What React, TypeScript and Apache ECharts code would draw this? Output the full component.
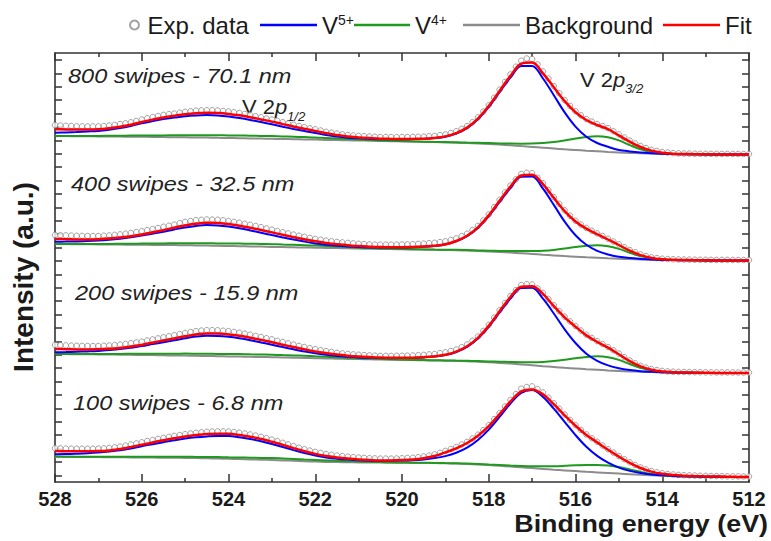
import React, { useEffect, useRef } from "react";
import * as echarts from "echarts";

// Binding energies (eV) for the fitted curves and for the measured points
const energies = [528,527.75,527.5,527.25,527,526.75,526.5,526.25,526,525.75,525.5,525.25,525,524.75,524.5,524.25,524,523.75,523.5,523.25,523,522.75,522.5,522.25,522,521.75,521.5,521.25,521,520.75,520.5,520.25,520,519.75,519.5,519.25,519,518.75,518.5,518.25,518,517.75,517.5,517.25,517,516.75,516.5,516.25,516,515.75,515.5,515.25,515,514.75,514.5,514.25,514,513.75,513.5,513.25,513,512.75,512.5,512.25,512];
const expEnergies = [528,527.875,527.75,527.625,527.5,527.375,527.25,527.125,527,526.875,526.75,526.625,526.5,526.375,526.25,526.125,526,525.875,525.75,525.625,525.5,525.375,525.25,525.125,525,524.875,524.75,524.625,524.5,524.375,524.25,524.125,524,523.875,523.75,523.625,523.5,523.375,523.25,523.125,523,522.875,522.75,522.625,522.5,522.375,522.25,522.125,522,521.875,521.75,521.625,521.5,521.375,521.25,521.125,521,520.875,520.75,520.625,520.5,520.375,520.25,520.125,520,519.875,519.75,519.625,519.5,519.375,519.25,519.125,519,518.875,518.75,518.625,518.5,518.375,518.25,518.125,518,517.875,517.75,517.625,517.5,517.375,517.25,517.125,517,516.875,516.75,516.625,516.5,516.375,516.25,516.125,516,515.875,515.75,515.625,515.5,515.375,515.25,515.125,515,514.875,514.75,514.625,514.5,514.375,514.25,514.125,514,513.875,513.75,513.625,513.5,513.375,513.25,513.125,513,512.875,512.75,512.625,512.5,512.375,512.25,512.125,512];

// Vertical offsets of the stacked spectra (a.u.) : 800, 400, 200, 100 swipes
const offsets = [327.5, 221.5, 109, 5];
const sampleLabels = ["800 swipes - 70.1 nm", "400 swipes - 32.5 nm", "200 swipes - 15.9 nm", "100 swipes - 6.8 nm"];
const peakLabels = ["1/2", "3/2"];

// ---- 800 swipes ----
const bg800 = [18.5,18.4,18.3,18.2,18.1,18,17.9,17.8,17.7,17.6,17.4,17.3,17.2,17,16.9,16.7,16.5,16.3,16.1,15.9,15.7,15.5,15.3,15.1,14.9,14.6,14.4,14.2,14,13.8,13.5,13.3,13.1,12.9,12.6,12.4,12.1,11.8,11.4,11,10.5,9.9,9.2,8.4,7.6,6.8,6,5.2,4.5,3.8,3.2,2.6,2.1,1.6,1.2,0.9,0.6,0.4,0.3,0.2,0.1,0.1,0,0,0];
const v5_800 = [21.8,22.1,22.5,23,23.6,24.8,26.4,28.6,31.2,33.4,35.4,36.9,38.2,39,39.4,39,38,36.5,34.6,32.4,30.2,27.8,25.5,23.4,21.5,19.4,18,16.8,16.2,15.7,15.3,15.2,15.2,15.4,15.6,16.4,17.8,21,26.4,35.2,47.5,62.4,76.9,88.4,88.6,76,59.3,42.1,27.9,17.8,11.5,7.7,4.6,3.1,2,1.3,0.8,0.4,0.3,0.2,0.1,0.1,0,0,0];
const v4_800 = [18.6,18.6,18.6,18.6,18.6,18.7,18.8,18.9,19,19.1,19.1,19.2,19.3,19.3,19.3,19.2,19.1,19,18.8,18.6,18.4,18.1,17.8,17.4,17,16.4,15.9,15.4,14.9,14.5,14,13.7,13.4,13.1,12.8,12.6,12.4,12.2,11.9,11.7,11.4,11.1,10.9,10.8,10.9,11.4,12.4,14,15.9,17.5,18.2,17.2,14.1,9.4,5.2,2.5,1.1,0.6,0.4,0.2,0.1,0.1,0,0,0];
const fit800 = [25.3,25.1,25,25,25.2,26.2,27.7,29.8,32.5,34.9,37.1,38.8,40.3,41.3,41.8,41.5,40.6,39.2,37.3,35.1,32.9,30.4,28,25.7,23.6,21.2,19.5,18,17.1,16.4,15.8,15.6,15.5,15.6,15.8,16.6,18.1,21.4,26.9,35.9,48.4,63.6,78.6,90.8,91.9,81.1,67.2,53.4,42.3,34.5,29.5,25.3,19.1,12.9,7.5,3.9,1.8,0.8,0.5,0.3,0.2,0.1,0.1,0,0];
const exp800 = [29.3,29,28.7,28.5,28.2,28.1,28,28.1,28.1,28.4,29,29.6,30.4,31.2,32.2,33.5,35,36.2,37.4,38.5,39.6,40.3,40.9,41.8,42.6,43.2,43.8,44.1,44.3,44.2,44,43.5,43,42.2,41.5,40.5,39.5,38.3,37.2,36,34.9,33.6,32.3,31,29.8,28.5,27.4,26.2,25.2,24,22.7,21.8,21,20.2,19.5,19,18.6,18.3,18,17.8,17.5,17.5,17.4,17.4,17.5,17.5,17.6,17.7,17.8,18.2,18.6,19.3,20.1,21.5,23.2,25.6,28.4,32.4,37.1,42.9,49.4,56.8,64.8,72.6,80.1,87.8,93.8,96,95.4,90.1,83.1,76,68.4,61.3,54.4,48.6,43.3,39.2,35.5,32.9,30.5,28.4,26.3,23.3,20.1,17,13.9,11.1,8.5,6.5,4.7,3.6,2.5,2,1.4,1.25,1,0.9,0.8,0.75,0.7,0.65,0.6,0.6,0.6,0.55,0.5,0.5,0.5];

// ---- 400 swipes ----
const bg400 = [16.5,16.4,16.3,16.2,16.1,16,15.9,15.8,15.7,15.6,15.5,15.4,15.3,15.1,14.9,14.7,14.5,14.3,14.1,13.9,13.6,13.4,13.2,13,12.8,12.6,12.4,12.2,11.9,11.7,11.6,11.4,11.2,11,10.9,10.7,10.5,10.3,10,9.5,9,8.5,7.9,7.3,6.6,5.8,5.1,4.4,3.8,3.2,2.7,2.2,1.8,1.4,1.1,0.8,0.5,0.4,0.3,0.2,0.1,0.1,0,0,0];
const v5_400 = [18.8,18.9,19.1,19.4,19.9,20.7,21.8,23.2,24.9,26.8,28.8,31,33.1,34.6,35.4,35,33.9,32.2,30.1,27.8,25.4,23.1,20.9,18.9,17.1,15.8,14.8,14.1,13.5,13.1,12.9,12.9,13,13.2,13.7,14.5,15.9,19.1,24.3,32.6,44.3,58.6,72.5,83.7,83.9,71.8,55.6,38.9,25.3,15.7,9.7,6,3.7,2.4,1.6,1,0.6,0.4,0.3,0.2,0.1,0.1,0,0,0];
const v4_400 = [16.6,16.6,16.6,16.6,16.6,16.6,16.7,16.8,16.9,17,17.1,17.2,17.3,17.3,17.2,17.1,17,16.9,16.8,16.6,16.3,16,15.7,15.3,14.9,14.4,13.9,13.4,12.8,12.4,12.1,11.8,11.5,11.2,11.1,10.9,10.8,10.7,10.5,10.1,9.8,9.6,9.4,9.4,9.5,9.8,10.6,11.9,13.5,14.8,15.3,14.2,11.6,7.8,4.4,2.1,0.9,0.6,0.4,0.2,0.1,0.1,0,0,0];
const fit400 = [21.5,21.3,21.1,21.1,21.3,21.9,22.9,24.3,26.1,28.2,30.4,32.8,35,36.8,37.7,37.4,36.4,34.8,32.8,30.5,28.1,25.7,23.4,21.2,19.2,17.6,16.3,15.3,14.4,13.8,13.4,13.3,13.3,13.4,13.9,14.7,16.2,19.5,24.8,33.2,45.1,59.7,74,85,85.8,76.3,62.6,49.4,39,31.8,26.3,21,15.5,9.8,5.4,2.6,1.2,0.7,0.5,0.3,0.2,0.1,0.1,0,0];
const exp400 = [25.5,25.3,25.1,24.9,24.7,24.6,24.5,24.5,24.5,24.8,25.1,25.6,26.1,26.8,27.5,28.4,29.3,30.3,31.4,32.5,33.7,34.7,35.8,37.3,38.6,39.5,40.3,40.7,41,40.9,40.7,40.2,39.5,38.6,37.8,36.7,35.7,34.5,33.3,32,30.8,29.5,28.3,27.1,25.9,24.8,23.7,22.6,21.6,20.8,19.9,19.2,18.6,18.1,17.6,17.1,16.7,16.4,16.1,15.9,15.8,15.8,15.8,15.9,16,16.1,16.3,16.6,16.9,17.3,17.7,18.4,19.2,20.5,22.1,24.3,26.8,30.5,34.6,40.1,46.1,53.3,60.7,68,75,81.1,86.5,87.7,87.3,82.7,77.3,70.5,63.4,56.7,50.2,44.8,39.8,36,32.6,29.8,27.1,24.5,21.8,19,16.2,13.3,10.5,8.2,6.1,4.5,3.2,2.4,1.8,1.5,1.2,1.1,1,0.9,0.8,0.75,0.7,0.65,0.6,0.6,0.6,0.55,0.5,0.5,0.5];

// ---- 200 swipes ----
const bg200 = [19,18.9,18.8,18.7,18.6,18.5,18.3,18.2,18,17.9,17.7,17.5,17.4,17.2,17,16.8,16.6,16.4,16.2,16,15.8,15.5,15.3,15.1,14.8,14.6,14.3,14.1,13.9,13.7,13.5,13.3,13.1,12.9,12.7,12.5,12.3,12,11.7,11.2,10.7,10.1,9.4,8.6,7.7,6.8,6,5.2,4.5,3.8,3.2,2.6,2.1,1.6,1.2,0.9,0.6,0.4,0.3,0.2,0.1,0.1,0,0,0];
const v5_200 = [20.7,20.9,21.2,21.6,22.1,22.9,23.9,25.3,26.9,28.9,30.8,32.7,34.7,36.4,37.3,37.1,36.2,34.7,32.8,30.6,28.3,25.9,23.7,21.6,19.7,18.2,17,16.2,15.6,15.2,14.9,14.8,14.9,15.1,15.6,16.4,17.9,21,26.2,34.5,46.2,60.6,74.4,85.1,85.2,74.3,59.5,43.7,30,19.3,12.2,7.6,4.7,2.9,1.8,1.2,0.7,0.4,0.3,0.2,0.1,0.1,0,0,0];
const v4_200 = [19.1,19.1,19.1,19.1,19.1,19.1,19.1,19.2,19.2,19.3,19.3,19.3,19.4,19.3,19.2,19.1,19,18.9,18.7,18.5,18.3,17.9,17.6,17.2,16.7,16.3,15.7,15.2,14.8,14.4,14,13.7,13.4,13.1,12.9,12.7,12.6,12.4,12.2,11.9,11.6,11.3,11,10.8,10.8,11.1,11.9,13.2,14.8,16.1,16.7,15.8,13.1,9,5.2,2.6,1.2,0.6,0.4,0.2,0.1,0.1,0,0,0];
const fit200 = [24,23.8,23.6,23.6,23.7,24.2,25.1,26.5,28.1,30.3,32.4,34.5,36.7,38.5,39.5,39.4,38.6,37.2,35.3,33.1,30.8,28.3,26,23.7,21.6,19.9,18.4,17.3,16.5,15.9,15.4,15.2,15.2,15.3,15.8,16.6,18.2,21.4,26.7,35.2,47.1,61.8,76,86.2,86.8,79.1,66.9,55.7,46.3,37.6,31.2,25.3,18.7,11.8,6.6,3.3,1.5,0.8,0.5,0.3,0.2,0.1,0.1,0,0];
const exp200 = [28,27.8,27.6,27.4,27.2,27.1,27,26.9,27,27.2,27.5,27.9,28.4,29.1,29.8,30.6,31.4,32.5,33.6,34.6,35.7,36.7,37.8,38.9,40,41,41.8,42.4,42.8,42.8,42.7,42.3,41.9,41.1,40.3,39.3,38.3,37.1,36,34.8,33.6,32.2,30.9,29.6,28.4,27.1,26,24.8,23.8,22.8,21.9,21,20.2,19.6,19,18.6,18.2,17.9,17.6,17.3,17.1,17.1,17.1,17.2,17.2,17.3,17.5,17.8,18.1,18.6,19,19.8,20.7,22,23.5,25.8,28.5,32.3,36.5,42.1,48.1,55.4,62.8,70,77,82.8,87.9,88.8,88.5,84.6,80.1,74,67.7,61.9,56.4,51.6,47,42.5,38.3,35,31.9,29,26,22.8,19.4,15.9,12.5,9.7,7.2,5.4,3.9,2.9,2.1,1.6,1.3,1.1,1,0.9,0.8,0.75,0.7,0.65,0.6,0.6,0.6,0.55,0.5,0.5,0.5];

// ---- 100 swipes ----
const bg100 = [20.3,20.2,20.1,20,19.9,19.8,19.7,19.6,19.5,19.4,19.3,19.2,19.1,18.9,18.7,18.5,18.2,17.9,17.6,17.3,17,16.6,16.2,15.8,15.4,15.1,14.9,14.7,14.6,14.5,14.4,14.3,14.2,14.1,14,13.9,13.7,13.4,13,12.5,11.9,11.2,10.5,9.7,8.9,8.1,7.3,6.6,5.9,5.2,4.6,4,3.4,2.8,2.2,1.7,1.3,0.9,0.6,0.4,0.3,0.2,0.1,0,0];
const v5_100 = [22.7,22.9,23.3,23.8,24.5,25.5,26.8,28.6,30.8,32.8,34.8,36.7,38.4,39.7,40.6,41.1,41,39.8,38,35.8,33,30,26.9,24,21.4,19.5,18.3,17.4,16.7,16.3,16.1,16.2,16.4,16.8,17.6,18.9,20.9,24.2,29.3,37,47.4,60.2,73.5,84.2,86.9,80.1,68.3,55.1,41.9,30.2,21.1,14.3,9.4,6.1,4,2.6,1.7,1.1,0.7,0.4,0.3,0.2,0.1,0,0];
const v4_100 = [20.4,20.3,20.3,20.2,20.2,20.2,20.2,20.2,20.2,20.2,20.2,20.2,20.2,20.1,20,19.9,19.7,19.5,19.3,19.1,18.9,18.5,18.1,17.6,17.1,16.6,16.2,15.8,15.5,15.2,14.9,14.7,14.5,14.3,14.2,14.1,13.9,13.7,13.4,13,12.5,12,11.5,11.1,10.8,10.7,10.8,11.2,11.7,12,12.1,11.4,9.9,7.6,5.1,3.1,1.8,1.1,0.7,0.4,0.3,0.2,0.1,0,0];
const fit100 = [26,25.8,25.7,25.7,25.9,26.6,27.9,30,32.3,34.6,36.7,38.7,40.5,41.9,42.9,43.3,43.2,42,40.2,38,35.2,32.1,28.9,25.8,23.1,21,19.6,18.5,17.6,17,16.6,16.6,16.9,17.5,18.8,21,24.6,28.7,34,41.3,50.9,62.9,75.6,85.6,87.6,82.7,72.8,61.7,51.2,42,34.6,27.2,20.4,14.1,9,5.4,3.2,2,1.3,0.9,0.6,0.4,0.2,0.1,0];
const exp100 = [28.7,28.6,28.4,28.3,28.3,28.3,28.2,28.3,28.4,28.7,29.1,29.7,30.4,31.4,32.5,33.6,34.7,35.9,37,38.1,39.1,40.1,41.1,41.9,42.8,43.5,44.2,44.7,45.2,45.5,45.6,45.6,45.5,45,44.3,43.5,42.5,41.4,40.2,38.9,37.4,35.8,34.2,32.6,31,29.3,27.8,26.4,25.1,24,22.9,22.2,21.5,20.9,20.3,19.8,19.4,19.1,18.8,18.6,18.4,18.4,18.4,18.5,18.7,19,19.2,19.8,20.5,21.4,22.6,24.2,26.1,28,30,32.5,35.1,38.5,42.3,46.9,51.9,57.8,63.9,70.5,77.1,82.9,88.3,90,90.6,87.9,84.5,79.3,73.8,68.2,62.5,57.1,51.9,47.1,42.6,38.8,35.2,31.5,27.8,24.4,21,17.8,14.7,12,9.6,7.6,6,4.7,3.7,3,2.5,2.1,1.8,1.6,1.4,1.25,1.1,1,0.9,0.8,0.7,0.65,0.6,0.55,0.5];

// axis ticks
const xMajor = [512, 514, 516, 518, 520, 522, 524, 526, 528];
const yTicks = [6.7,20.1,33.5,46.9,60.3,73.7,87.1,100.5,113.9,127.3,140.7,154.1,167.5,180.9,194.3,207.7,221.1,234.5,247.9,261.3,274.7,288.1,301.5,314.9,328.3,341.7,355.1,368.5,381.9,395.3,408.7,422.1];

const FONT = '"Liberation Sans", Arial, Helvetica, sans-serif';
const INK = "#1a1a1a";
const AXIS = "#333333";
const C_EXP = "#8a8a8a";
const C_V5 = "#0000ff";
const C_V4 = "#1f9a1f";
const C_BG = "#8c8c8c";
const C_FIT = "#ff0000";

function buildOption() {
  const spectra = [
    { exp: exp800, bg: bg800, v5: v5_800, v4: v4_800, fit: fit800 },
    { exp: exp400, bg: bg400, v5: v5_400, v4: v4_400, fit: fit400 },
    { exp: exp200, bg: bg200, v5: v5_200, v4: v4_200, fit: fit200 },
    { exp: exp100, bg: bg100, v5: v5_100, v4: v4_100, fit: fit100 },
  ];
  const series: any[] = [];
  spectra.forEach((s, k) => {
    const off = offsets[k];
    const line = (name: string, arr: number[], color: string, width: number, z: number) => ({
      type: "line",
      name,
      data: energies.map((e, i) => [e, arr[i] + off]),
      symbol: "none",
      showSymbol: false,
      smooth: 0.35,
      lineStyle: { color, width },
      itemStyle: { color },
      z,
      silent: true,
    });
    series.push({
      type: "scatter",
      name: "Exp. data",
      data: expEnergies.map((e, i) => [e, s.exp[i] + off]),
      symbol: "circle",
      symbolSize: 5.5,
      itemStyle: { color: "#ffffff", borderColor: C_EXP, borderWidth: 1 },
      z: 2,
      silent: true,
    });
    series.push(line("Background", s.bg, C_BG, 2, 3));
    series.push(line("V4+", s.v4, C_V4, 2, 4));
    series.push(line("V5+", s.v5, C_V5, 2, 5));
    series.push(line("Fit", s.fit, C_FIT, 2.5, 6));
  });

  const rich = {
    b: { fontSize: 24, lineHeight: 24, fontFamily: FONT, color: INK, verticalAlign: "bottom" },
    p: { fontSize: 14, lineHeight: 12, fontFamily: FONT, color: INK, verticalAlign: "top" },
  };
  const legendBase = {
    top: 13,
    padding: 0,
    itemGap: 0,
    selectedMode: false,
    itemHeight: 2.5,
    itemWidth: 57,
    textStyle: { fontFamily: FONT, fontSize: 24, lineHeight: 24, color: INK, rich },
    formatter: (name: string) =>
      name === "V5+" ? "{b|V}{p|5+}" : name === "V4+" ? "{b|V}{p|4+}" : name,
  };

  const tickLine = { color: AXIS, width: 1.5 };
  const xAxisBase = {
    type: "value",
    min: 512,
    max: 528,
    interval: 2,
    inverse: true,
    axisLine: { show: true, onZero: false, lineStyle: { color: AXIS, width: 1.6 } },
    axisTick: { show: true, inside: true, length: 8, lineStyle: tickLine },
    minorTick: { show: true, splitNumber: 2, length: 4, lineStyle: tickLine },
    splitLine: { show: false },
    minorSplitLine: { show: false },
  };
  const yAxisBase = {
    type: "value",
    min: 0,
    max: 429,
    axisLine: { show: true, onZero: false, lineStyle: { color: AXIS, width: 1.6 } },
    axisTick: { show: true, inside: true, length: 7, customValues: yTicks, lineStyle: tickLine },
    axisLabel: { show: false },
    splitLine: { show: false },
  };

  const labelY = [75.8, 184.2, 292.5, 402.5];
  const labelX = [68, 71, 75, 73];
  const peakMain = [
    { x: 242, y: 107 },
    { x: 580, y: 79.5 },
  ];

  const peakTexts: any[] = [];
  peakMain.forEach((p, k) => {
    peakTexts.push({
      type: "text",
      x: p.x,
      y: p.y,
      scaleX: 1.1,
      silent: true,
      style: {
        text: "{n|V 2}{i|p}",
        fill: "#222222",
        verticalAlign: "middle",
        rich: {
          n: { fontFamily: FONT, fontSize: 20, fill: "#222222" },
          i: { fontFamily: FONT, fontSize: 20, fontStyle: "italic", fill: "#222222" },
        },
      },
    });
    peakTexts.push({
      type: "text",
      x: p.x + 45,
      y: p.y + 10,
      scaleX: 1.1,
      silent: true,
      style: {
        text: peakLabels[k],
        fontFamily: FONT,
        fontSize: 12,
        fontStyle: "italic",
        fill: "#222222",
        verticalAlign: "middle",
      },
    });
  });

  return {
    animation: false,
    backgroundColor: "#ffffff",
    textStyle: { fontFamily: FONT },
    grid: { left: 55, right: 22, top: 53, bottom: 59, containLabel: false, outerBoundsMode: "none" },
    legend: [
      {
        ...legendBase,
        left: 129,
        itemWidth: 16,
        itemHeight: 9,
        data: [{ name: "Exp. data", icon: "circle" }],
      },
      { ...legendBase, left: 260, data: [{ name: "V5+", icon: "rect" }] },
      { ...legendBase, left: 354, itemWidth: 56, data: [{ name: "V4+", icon: "rect" }] },
      { ...legendBase, left: 463, data: [{ name: "Background", icon: "rect" }] },
      { ...legendBase, left: 663, data: [{ name: "Fit", icon: "rect" }] },
    ],
    xAxis: [
      {
        ...xAxisBase,
        position: "bottom",
        axisLabel: {
          show: true,
          fontFamily: FONT,
          fontWeight: "bold",
          fontSize: 20,
          color: INK,
          margin: 7,
          customValues: xMajor,
        },
      },
      { ...xAxisBase, position: "top", axisLabel: { show: false } },
    ],
    yAxis: [
      { ...yAxisBase, position: "left" },
      { ...yAxisBase, position: "right" },
    ],
    series,
    graphic: [
      ...sampleLabels.map((t, k) => ({
        type: "text",
        x: labelX[k],
        y: labelY[k],
        scaleX: 1.12,
        silent: true,
        style: {
          text: t,
          fontFamily: FONT,
          fontSize: 21,
          fontStyle: "italic",
          fill: "#222222",
          align: "left",
          verticalAlign: "middle",
        },
      })),
      ...peakTexts,
      {
        type: "text",
        x: 768,
        y: 523.5,
        scaleX: 1.12,
        silent: true,
        style: {
          text: "Binding energy (eV)",
          fontFamily: FONT,
          fontSize: 24,
          fontWeight: "bold",
          fill: INK,
          align: "right",
          verticalAlign: "middle",
        },
      },
      {
        type: "text",
        x: 23,
        y: 277,
        rotation: Math.PI / 2,
        silent: true,
        style: {
          text: "Intensity (a.u.)",
          fontFamily: FONT,
          fontSize: 28,
          fontWeight: "bold",
          fill: INK,
          align: "center",
          verticalAlign: "middle",
        },
      },
    ],
  };
}

export default function App() {
  const ref = useRef<HTMLDivElement>(null);
  useEffect(() => {
    if (!ref.current) return;
    const chart = echarts.init(ref.current, null, { renderer: "svg" });
    chart.setOption(buildOption() as any);
    return () => chart.dispose();
  }, []);
  return (
    <div
      ref={ref}
      style={{ position: "absolute", left: 0, top: 0, width: 771, height: 541, background: "#fff" }}
    />
  );
}
